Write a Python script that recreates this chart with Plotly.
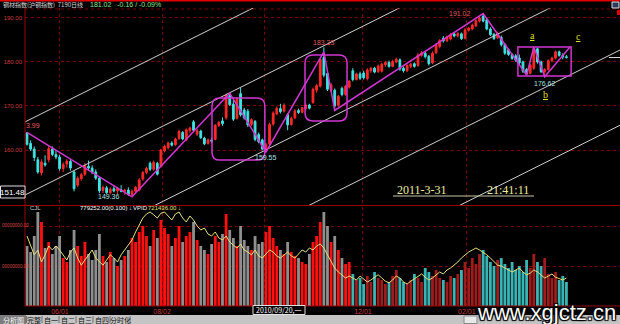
import plotly.graph_objects as go

# ---------------- data ----------------
opens = [163.9, 161.5, 160.2, 157.8, 154.8, 157.0, 157.8, 160.2, 159.0, 158.4,
         155.8, 156.8, 157.4, 155.0, 152.0, 153.5, 154.5, 156.3, 155.9, 155.0,
         153.6, 150.8, 151.4, 150.3, 151.2, 150.7, 151.0, 150.6, 150.9, 149.9,
         150.6, 150.9, 153.4, 154.9, 157.0, 155.6, 157.0, 156.4, 159.8, 160.5,
         161.6, 161.2, 162.6, 164.0, 162.3, 164.4, 166.4, 163.6, 164.3, 162.7,
         161.5, 162.3, 162.4, 165.6, 166.6, 167.3, 172.3, 170.4, 167.2, 172.8,
         169.1, 168.8, 165.8, 166.5, 163.5, 162.3, 160.1, 161.4, 165.9, 168.2,
         169.4, 168.8, 168.0, 165.8, 167.3, 169.0, 168.6, 169.4, 170.2, 170.8,
         173.6, 174.5, 181.0, 177.4, 173.6, 173.6, 170.2, 174.0, 172.6, 174.3,
         178.0, 176.0, 177.3, 177.5, 176.2, 178.0, 178.6, 177.8, 177.9, 179.4,
         179.9, 179.0, 180.0, 180.5, 178.6, 178.0, 179.0, 179.6, 179.2, 181.5,
         182.0, 181.3, 179.8, 182.1, 183.5, 185.4, 184.8, 185.2, 186.4, 185.9,
         186.4, 185.4, 187.2, 187.5, 188.2, 189.3, 190.4, 189.6, 187.5, 186.3,
         185.5, 185.6, 184.0, 182.8, 181.7, 181.4, 180.9, 180.0, 178.3, 177.4,
         178.6, 183.0, 180.0, 177.8, 178.3, 180.3, 180.9, 182.3, 181.5, 181.2]
highs = [163.99, 162.2, 160.8, 158.4, 157.9, 158.8, 160.9, 160.8, 160.0, 158.9,
         157.2, 157.9, 157.8, 155.3, 154.0, 154.8, 157.0, 157.6, 156.5, 155.6,
         154.0, 151.9, 151.8, 151.5, 151.9, 151.6, 152.0, 151.2, 151.5, 151.0,
         151.8, 153.6, 155.2, 156.2, 157.4, 157.6, 157.3, 160.3, 161.2, 161.9,
         162.0, 162.8, 164.6, 164.3, 164.9, 165.3, 166.8, 164.8, 164.6, 163.0,
         162.6, 162.8, 165.9, 166.6, 167.4, 172.8, 172.9, 171.4, 172.0, 174.1,
         169.6, 169.3, 167.2, 166.8, 164.0, 162.6, 161.6, 166.2, 168.8, 169.9,
         170.5, 170.6, 168.4, 167.6, 169.3, 169.4, 169.8, 170.6, 170.5, 174.2,
         175.0, 181.0, 183.33, 178.0, 175.2, 174.0, 172.5, 174.4, 174.8, 175.9,
         178.6, 177.6, 177.8, 178.0, 178.6, 178.9, 178.9, 179.4, 179.8, 180.2,
         180.3, 180.5, 181.0, 180.8, 179.0, 179.5, 179.8, 179.9, 182.0, 182.5,
         182.4, 181.6, 182.4, 184.3, 185.2, 185.9, 186.0, 186.6, 186.8, 186.8,
         186.7, 187.7, 188.0, 188.7, 189.7, 190.3, 191.02, 190.0, 187.9, 186.6,
         186.9, 186.0, 184.3, 183.1, 182.0, 181.8, 181.7, 180.3, 178.6, 179.6,
         183.4, 183.3, 180.3, 178.6, 180.6, 181.2, 182.6, 182.6, 182.0, 181.6]
lows = [161.0, 159.8, 157.5, 154.6, 154.2, 156.2, 157.2, 158.6, 157.9, 155.3,
        155.0, 156.0, 155.3, 150.6, 151.6, 153.0, 154.1, 155.4, 154.5, 153.2,
        150.2, 150.2, 150.0, 149.9, 150.4, 150.0, 150.4, 149.8, 149.6, 149.36,
        150.3, 150.6, 153.0, 154.5, 155.2, 155.3, 154.2, 156.0, 159.5, 160.1,
        160.8, 160.9, 162.3, 162.2, 162.0, 163.8, 164.2, 163.2, 162.5, 161.1,
        161.2, 161.6, 162.2, 165.2, 165.5, 166.9, 170.0, 166.6, 166.9, 167.6,
        166.9, 165.2, 165.4, 162.0, 161.5, 159.9, 159.55, 161.0, 165.5, 167.9,
        168.3, 168.5, 164.5, 165.5, 167.0, 168.2, 168.3, 169.0, 169.2, 170.5,
        173.0, 174.2, 176.5, 173.4, 173.2, 169.0, 169.8, 172.2, 172.3, 174.0,
        175.6, 175.8, 175.9, 176.0, 175.8, 177.5, 177.4, 177.5, 177.6, 178.9,
        178.7, 178.8, 179.7, 178.0, 177.6, 177.7, 178.6, 178.7, 178.9, 181.2,
        180.8, 179.2, 179.5, 181.8, 183.1, 184.4, 184.5, 184.9, 185.6, 185.6,
        185.0, 185.1, 186.9, 187.2, 188.0, 189.0, 189.0, 187.2, 185.9, 185.0,
        185.2, 183.5, 181.6, 181.4, 180.5, 180.0, 179.4, 177.5, 177.0, 177.2,
        178.2, 179.6, 177.5, 176.62, 178.0, 179.9, 180.6, 181.2, 180.6, 180.8]
closes = [161.3, 160.2, 158.3, 155.0, 157.3, 156.6, 160.3, 159.0, 158.4, 155.8,
          156.7, 157.5, 155.9, 151.2, 153.6, 154.4, 156.4, 155.9, 155.0, 153.6,
          150.7, 151.5, 150.3, 151.1, 150.7, 151.3, 150.6, 150.9, 149.9, 150.6,
          151.5, 153.2, 154.9, 155.8, 155.6, 157.2, 154.5, 160.0, 160.8, 161.6,
          161.1, 162.5, 164.2, 162.5, 164.6, 165.0, 164.5, 164.4, 162.8, 161.4,
          162.3, 162.0, 165.6, 166.3, 166.0, 172.5, 170.3, 167.0, 171.6, 168.0,
          167.3, 165.7, 166.9, 162.4, 161.9, 160.2, 161.3, 165.8, 168.4, 169.5,
          168.7, 170.2, 165.7, 167.2, 168.9, 168.5, 169.6, 170.2, 169.5, 173.8,
          174.6, 180.6, 177.0, 173.8, 174.8, 170.0, 172.2, 172.6, 174.5, 175.6,
          176.0, 177.3, 176.3, 176.4, 178.2, 178.6, 177.7, 179.1, 179.5, 179.9,
          179.0, 180.1, 180.6, 178.4, 178.0, 179.2, 179.5, 179.0, 181.6, 182.1,
          181.2, 179.6, 182.0, 183.9, 184.9, 184.8, 185.7, 186.2, 185.9, 186.5,
          185.3, 187.3, 187.7, 188.4, 189.4, 190.0, 189.3, 187.5, 186.2, 185.3,
          186.5, 183.9, 182.0, 181.7, 180.8, 180.4, 179.8, 177.9, 177.3, 179.3,
          183.0, 180.0, 177.8, 178.3, 180.3, 180.9, 182.3, 181.5, 181.18, 181.02]

volume = [150, 135, 175, 235, 210, 145, 160, 130, 150, 175,
          120, 110, 140, 190, 150, 125, 160, 130, 115, 140,
          180, 125, 110, 135, 120, 100, 115, 125, 140, 170,
          160, 185, 200, 175, 150, 190, 170, 215, 195, 180,
          150, 170, 200, 160, 175, 185, 210, 165, 150, 140,
          130, 155, 175, 160, 180, 230, 190,
          170, 150, 200, 165, 150, 140, 175, 155, 160, 185,
          200, 170, 150, 140, 130, 160, 135, 125, 120, 110,
          105, 130, 160, 175, 210,
          235, 200, 160, 175, 140, 120, 105, 110,
          80, 65, 70, 55, 75, 60, 85, 70, 65, 55,
          60, 75, 90, 70, 60, 55, 65, 80, 70, 60,
          95, 85, 75, 90, 70, 65, 60, 75, 70,
          80, 90, 110, 95, 120, 105, 130, 140, 125, 110, 100, 115,
          120, 105, 95, 110, 90, 100, 85, 115, 95, 130,
          110, 100, 120, 80, 70, 85, 65, 75, 60]
vpid = [175, 152, 128, 140, 110, 128, 150, 140, 150, 140,
        128, 115, 135, 145, 120, 102, 115, 128, 140, 120,
        110, 102, 115, 128, 120, 110, 128, 140, 152, 165,
        185, 202, 220, 230, 235, 228, 220, 232, 235, 225,
        215, 230, 235, 220, 210, 225, 215, 200, 190, 195,
        180, 175, 185, 170, 165, 175, 160,
        152, 145, 155, 140, 135, 128, 140, 125, 120, 130,
        140, 135, 125, 120, 128, 135, 125, 120, 130, 140,
        135, 145, 140, 150, 155,
        145, 128, 110, 95, 85, 78, 70, 75,
        70, 65, 75, 68, 60, 65, 72, 78, 70, 62,
        58, 65, 75, 70, 60, 55, 62, 68, 75, 80,
        72, 65, 70, 78, 85, 80, 90, 95, 102,
        110, 120, 128, 135, 140, 145, 140, 135, 128, 120, 110, 102,
        100, 95, 90, 85, 90, 95, 85, 78, 82, 90,
        85, 78, 70, 75, 80, 72, 68, 65, 70]

# zigzag wave through the marked extremes (index, price)
wave_idx = [0, 29, 56, 66, 82, 85, 126, 138, 140, 143, 150]
wave_price = [163.99, 149.36, 172.9, 159.55, 182.3, 169.0, 191.02, 177.0, 183.4, 176.62, 183.4]

# parallel channel lines: price at index 0 and slope per bar
channel_base = [166.6, 150.0, 132.9, 115.4, 98.3]
channel_slope = 0.411

# marked boxes (index0, price0, index1, price1)
round_boxes = [(51.1, 157.7, 65.7, 171.8), (76.8, 166.6, 88.4, 181.6)]
square_box = (135.6, 176.8, 150.3, 183.4)

price_ticks = [160, 170, 180, 190]
price_ticktext = ["160.00", "170.00", "180.00", "190.00"]
grid_idx = [9.1, 37.3, 65.7, 92.8, 121.5]
date_labels = ["06/01", "08/02", "", "12/01", "02/01"]
vol_ticks = [100, 200]
vol_ticktext = ["00000000.00", "00000000.00"]

# ---------------- figure ----------------
W, H = 620, 324
def px(x):
    return x / W
def py(y):
    return 1 - y / H

UP = "#ff2a2a"
DN = "#3fe3e3"
MAG = "#d236d2"
GRID = "#7a0000"
AX = "#9a0000"
TICK = "#c83a3a"

N = len(opens)
idx = list(range(N))

fig = go.Figure()

# channel lines
for base in channel_base:
    xs = [-3, 168]
    fig.add_trace(go.Scatter(x=xs, y=[base + channel_slope * v for v in xs], mode="lines",
                             line=dict(color="#cfcfcf", width=1), hoverinfo="skip",
                             showlegend=False, xaxis="x", yaxis="y"))

fig.add_trace(go.Candlestick(x=idx, open=opens, high=highs, low=lows, close=closes,
                             increasing=dict(line=dict(color=UP, width=1), fillcolor=UP),
                             decreasing=dict(line=dict(color=DN, width=1), fillcolor=DN),
                             whiskerwidth=0, hoverinfo="skip", showlegend=False,
                             xaxis="x", yaxis="y"))

fig.add_trace(go.Scatter(x=wave_idx, y=wave_price, mode="lines",
                         line=dict(color=MAG, width=1.5), hoverinfo="skip",
                         showlegend=False, xaxis="x", yaxis="y"))

vol_colors = []
for i in idx:
    up = closes[i] >= opens[i]
    if i < 90:
        vol_colors.append("#ff1010" if up else "#8e8e8e")
    else:
        vol_colors.append("#a01c1c" if up else "#38b4b4")
fig.add_trace(go.Bar(x=idx, y=volume, marker=dict(color=vol_colors, line=dict(width=0)),
                     hoverinfo="skip", showlegend=False, xaxis="x2", yaxis="y2"))
fig.add_trace(go.Scatter(x=idx, y=vpid, mode="lines", line=dict(color="#e6e07a", width=1),
                         hoverinfo="skip", showlegend=False, xaxis="x2", yaxis="y2"))

shapes = []

def rounded(x0, y0, x1, y1, rx=2.2, ry=1.8):
    return (f"M {x0+rx},{y0} L {x1-rx},{y0} Q {x1},{y0} {x1},{y0+ry} "
            f"L {x1},{y1-ry} Q {x1},{y1} {x1-rx},{y1} L {x0+rx},{y1} "
            f"Q {x0},{y1} {x0},{y1-ry} L {x0},{y0+ry} Q {x0},{y0} {x0+rx},{y0} Z")

for b in round_boxes:
    shapes.append(dict(type="path", xref="x", yref="y", path=rounded(*b),
                       line=dict(color=MAG, width=1.5)))
shapes.append(dict(type="rect", xref="x", yref="y", x0=square_box[0], y0=square_box[1],
                   x1=square_box[2], y1=square_box[3], line=dict(color=MAG, width=1.5)))

# frame lines
shapes += [
    dict(type="line", xref="paper", yref="paper", x0=0, x1=1, y0=py(0.7), y1=py(0.7),
         line=dict(color="#e00000", width=1.5)),
    dict(type="line", xref="paper", yref="paper", x0=px(25), x1=1, y0=py(9), y1=py(9),
         line=dict(color=GRID, width=1, dash="dot")),
    dict(type="line", xref="paper", yref="paper", x0=px(25), x1=px(25), y0=py(8), y1=py(306),
         line=dict(color=AX, width=1)),
    dict(type="line", xref="paper", yref="paper", x0=0, x1=1, y0=py(205.5), y1=py(205.5),
         line=dict(color=AX, width=1)),
    dict(type="line", xref="paper", yref="paper", x0=px(25), x1=1, y0=py(306), y1=py(306),
         line=dict(color=AX, width=1)),
    # time underline
    dict(type="line", xref="paper", yref="paper", x0=px(393), x1=px(534), y0=py(196), y1=py(196),
         line=dict(color="#c8c8a8", width=1)),
    # current price marker on right edge
    dict(type="line", xref="paper", yref="paper", x0=px(609), x1=1, y0=py(57.5), y1=py(57.5),
         line=dict(color="#d8d8d8", width=1)),
    # cursor price box
    dict(type="rect", xref="paper", yref="paper", x0=px(0.5), x1=px(25), y0=py(186), y1=py(198),
         fillcolor="black", line=dict(color="#e0e0e0", width=1)),
    # cursor date box
    dict(type="rect", xref="paper", yref="paper", x0=px(253), x1=px(305), y0=py(305.5), y1=py(314.5),
         fillcolor="black", line=dict(color="#e0e0e0", width=1)),
    # tab bar
    dict(type="rect", xref="paper", yref="paper", x0=0, x1=1, y0=0, y1=py(315),
         fillcolor="#c4c4c4", line=dict(width=0)),
    dict(type="rect", xref="paper", yref="paper", x0=0, x1=px(26), y0=0, y1=py(315),
         fillcolor="#7c7c7c", line=dict(width=0)),
    dict(type="rect", xref="paper", yref="paper", x0=px(464), x1=px(477), y0=py(323.5), y1=py(316),
         fillcolor="#e8e8e8", line=dict(color="#888888", width=1)),
    # top-right icon
    dict(type="rect", xref="paper", yref="paper", x0=px(612), x1=px(619), y0=py(8), y1=py(2),
         fillcolor="#2a3a5a", line=dict(color="#e0e0e0", width=1)),
    dict(type="rect", xref="paper", yref="paper", x0=px(617), x1=1, y0=py(15), y1=py(10),
         fillcolor="#e00000", line=dict(width=0)),
]

HI = "#e05a5a"
LO = "#a8e4e4"
ann = []
def note(text, x, y, xref="paper", yref="paper", size=7, color="#d0d0d0", xa="left", ya="middle",
         family="Liberation Sans", xs=0, ys=0):
    ann.append(dict(text=text, x=x, y=y, xref=xref, yref=yref, showarrow=False,
                    font=dict(size=size, color=color, family=family), xanchor=xa, yanchor=ya,
                    xshift=xs, yshift=ys))

# header
note("钢材指数(沪钢指数)  7190日线", px(1), py(5), size=6, color="#d8d8d8", family="Noto Sans CJK SC")
note("181.02   -0.16 / -0.09%", px(88), py(5), size=7, color="#8ee08e")

# volume axis labels (left gutter)
for v, t in zip(vol_ticks, vol_ticktext):
    ann.append(dict(text=t, x=0, y=v, xref="paper", yref="y2", showarrow=False,
                    xanchor="left", yanchor="middle", xshift=0,
                    font=dict(size=4.6, color="#d84848", family="Liberation Sans")))

# extreme labels
note("3.99", 0, 163.99, xref="x", yref="y", color=HI, xa="left", ya="bottom", xs=-3, ys=1)
note("149.36", 29, 149.36, xref="x", yref="y", color=LO, xa="right", xs=-10)
note("183.33", 82, 183.33, xref="x", yref="y", color=HI, xa="center", ya="bottom", ys=-1)
note("159.55", 66, 159.55, xref="x", yref="y", color=LO, xa="center", ya="top")
note("191.02", 126, 191.02, xref="x", yref="y", color=HI, xa="right", xs=-10)
note("176.62", 143, 176.62, xref="x", yref="y", color=LO, xa="center", ya="top", ys=-1)

# wave letters
note("<u>a</u>", px(532), py(35), size=10, color="#dede22", xa="center", family="Liberation Serif")
note("<u>c</u>", px(578), py(37), size=10, color="#dede22", xa="center", family="Liberation Serif")
note("<u>b</u>", px(545), py(95), size=10, color="#dede22", xa="center", family="Liberation Serif")

# date/time stamp
note("2011-3-31", px(395), py(190), size=12, color="#ecec9c", family="Liberation Serif")
note("21:41:11", px(485), py(190), size=12, color="#ecec9c", family="Liberation Serif")

# cursor boxes
note("151.48", px(12.8), py(192), size=8, color="#ffffff", xa="center")
note("2010/09/20,一", px(279), py(310), size=7, color="#ffffff", xa="center", family="Noto Sans CJK SC")

# volume header
note("CJL", px(28), py(208), size=6, color="#c8c8c8")
note("779252.00(0.100) ↓", px(78), py(208), size=6, color="#ffffff")
note("VPID", px(131), py(208), size=6, color="#ffffff")
note("721436.00 ↓", px(146), py(208), size=6, color="#e6e07a")

# bottom tabs
note("分析图", px(13), py(319.5), size=7, color="#f4f4f4", xa="center", family="Noto Sans CJK SC")
tabs_left = [("完整", 34), ("自一", 51), ("自二", 68), ("自三", 85), ("自四", 102), ("分时化", 120)]
for t, xc in tabs_left:
    note(t, px(xc), py(319.5), size=7, color="#101010", xa="center", family="Noto Sans CJK SC")
for xs_ in [26.5, 42, 59, 76, 93, 110, 130]:
    shapes.append(dict(type="line", xref="paper", yref="paper", x0=px(xs_), x1=px(xs_),
                       y0=py(323), y1=py(316), line=dict(color="#707070", width=1)))

# watermark
ann.append(dict(text="www.xgjctz.cn", x=px(618), y=py(324), xref="paper", yref="paper",
                showarrow=False, xanchor="right", yanchor="bottom", yshift=-3,
                font=dict(size=22, color="#ffffff", family="Liberation Sans",
                          shadow="1px 1px 1px #000, -1px -1px 1px #000, 1px -1px 1px #000, -1px 1px 1px #000")))

fig.update_layout(
    width=W, height=H, margin=dict(l=0, r=0, t=0, b=0, autoexpand=False), autosize=False,
    paper_bgcolor="black", plot_bgcolor="black", showlegend=False, bargap=0.22,
    xaxis=dict(domain=[px(25), 1], range=[-0.55, 163.8], showticklabels=False, ticks="",
               tickvals=grid_idx, showgrid=True, gridcolor=GRID, griddash="dot", gridwidth=1,
               zeroline=False, showline=False, rangeslider=dict(visible=False), anchor="y",
               fixedrange=True, automargin=False),
    yaxis=dict(domain=[py(205), py(8)], range=[147.5, 192.27], tickvals=price_ticks,
               ticktext=price_ticktext, tickfont=dict(size=6, color=TICK, family="Liberation Sans"),
               showgrid=True, gridcolor=GRID, griddash="dot", gridwidth=1, zeroline=False,
               ticks="", showline=False, anchor="x", ticklabelstandoff=2, fixedrange=True,
               automargin=False),
    xaxis2=dict(domain=[px(25), 1], range=[-0.55, 163.8], tickvals=grid_idx, ticktext=date_labels,
                tickfont=dict(size=7, color=TICK, family="Liberation Sans"), ticks="",
                showgrid=True, gridcolor=GRID, griddash="dot", gridwidth=1, zeroline=False,
                showline=False, anchor="y2", ticklabelstandoff=0, fixedrange=True, automargin=False),
    yaxis2=dict(domain=[py(306), py(207)], range=[0, 247.5], tickvals=vol_ticks,
                showticklabels=False, showgrid=True,
                gridcolor=GRID, griddash="dot", gridwidth=1, zeroline=False, ticks="",
                showline=False, anchor="x2", fixedrange=True, automargin=False),
    shapes=shapes, annotations=ann,
)

fig.write_html("out.html")
